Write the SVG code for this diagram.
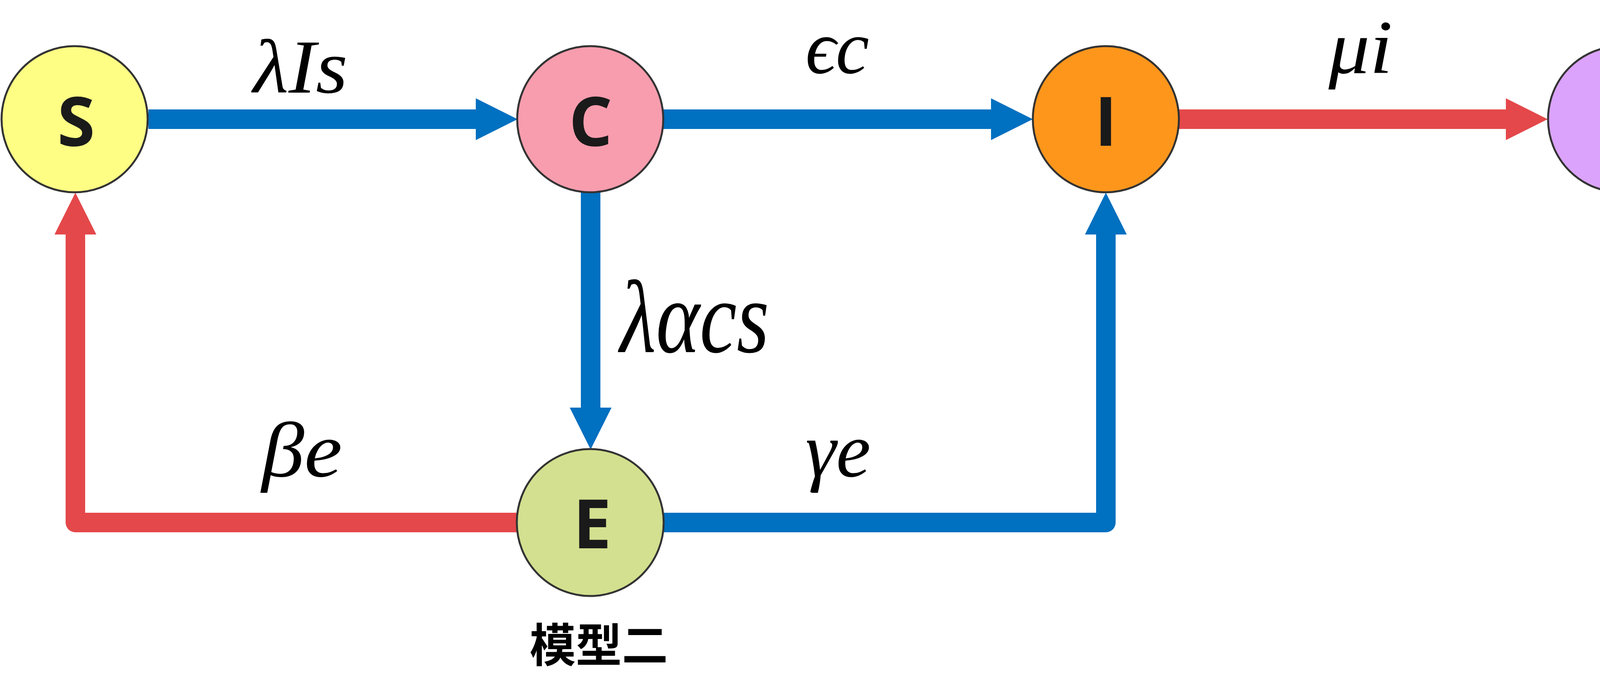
<svg xmlns="http://www.w3.org/2000/svg" width="4344" height="1763" viewBox="0 0 4344 1763">
<defs>
<style>
.node{stroke:#333333;stroke-width:5}
.lt{font-family:"Open Sans","Liberation Sans",sans-serif;font-weight:700;font-size:175px;fill:#1a1a1a;text-anchor:middle}
.math{font-family:"Liberation Serif","DejaVu Serif",serif;font-style:italic;fill:#000000}
.blue{stroke:#0070C0;stroke-width:50;fill:none;stroke-linejoin:round}
.red{stroke:#E4484A;stroke-width:50;fill:none;stroke-linejoin:round}
.cap{font-family:"Noto Sans CJK SC","Noto Sans CJK JP",sans-serif;font-weight:700;font-size:118px;fill:#000000;text-anchor:middle}
</style>
<marker id="hb" viewBox="0 -1.07 2.14 2.14" markerWidth="2.14" markerHeight="2.14" refX="0" refY="0" orient="auto" markerUnits="strokeWidth">
<path d="M0,-1.07 L2.14,0 L0,1.07 Z" fill="#0070C0"/>
</marker>
<marker id="hr" viewBox="0 -1.07 2.14 2.14" markerWidth="2.14" markerHeight="2.14" refX="0" refY="0" orient="auto" markerUnits="strokeWidth">
<path d="M0,-1.07 L2.14,0 L0,1.07 Z" fill="#E4484A"/>
</marker>
</defs>
<rect width="4344" height="1763" fill="#ffffff"/>
<g id="connectors">
<path class="blue" d="M380,305 H1218" marker-end="url(#hb)"/>
<path class="blue" d="M1698,305 H2537" marker-end="url(#hb)"/>
<path class="red" d="M3017,305 H3855" marker-end="url(#hr)"/>
<path class="blue" d="M1512,492 V1043" marker-end="url(#hb)"/>
<path class="red" d="M1330,1337 H193 V600" marker-end="url(#hr)"/>
<path class="blue" d="M1694,1337 H2831 V600" marker-end="url(#hb)"/>
</g>
<g id="labels">
<text class="math" x="648" y="237" font-size="196" textLength="242" lengthAdjust="spacingAndGlyphs">λIs</text>
<text class="math" x="2062" y="187" font-size="196" textLength="163" lengthAdjust="spacingAndGlyphs">ϵc</text>
<text class="math" x="3401" y="187" font-size="196" textLength="164" lengthAdjust="spacingAndGlyphs">μi</text>
<text class="math" x="1587" y="901" font-size="265" textLength="382" lengthAdjust="spacingAndGlyphs">λαcs</text>
<text class="math" x="670" y="1219" font-size="200" textLength="206" lengthAdjust="spacingAndGlyphs">βe</text>
<text class="math" x="2062" y="1219" font-size="200" textLength="167" lengthAdjust="spacingAndGlyphs">γe</text>
</g>
<g id="node-S"><circle class="node" cx="191" cy="305" r="187" fill="#FEFE85"/><text class="lt" x="195" y="373">S</text></g>
<g id="node-C"><circle class="node" cx="1511" cy="305" r="187" fill="#F89DAE"/><text class="lt" x="1512" y="373">C</text></g>
<g id="node-I"><circle class="node" cx="2831" cy="305" r="187" fill="#FF961C"/><text class="lt" x="2831" y="373">I</text></g>
<g id="node-R"><circle class="node" cx="4150" cy="305" r="187" fill="#DBA3FC"/><text class="lt" x="4155" y="373">R</text></g>
<g id="node-E"><circle class="node" cx="1511" cy="1337" r="188" fill="#D3E08F"/><text class="lt" x="1516" y="1403">E</text></g>
<g id="caption"><text class="cap" x="1533" y="1694">模型二</text></g>
</svg>
